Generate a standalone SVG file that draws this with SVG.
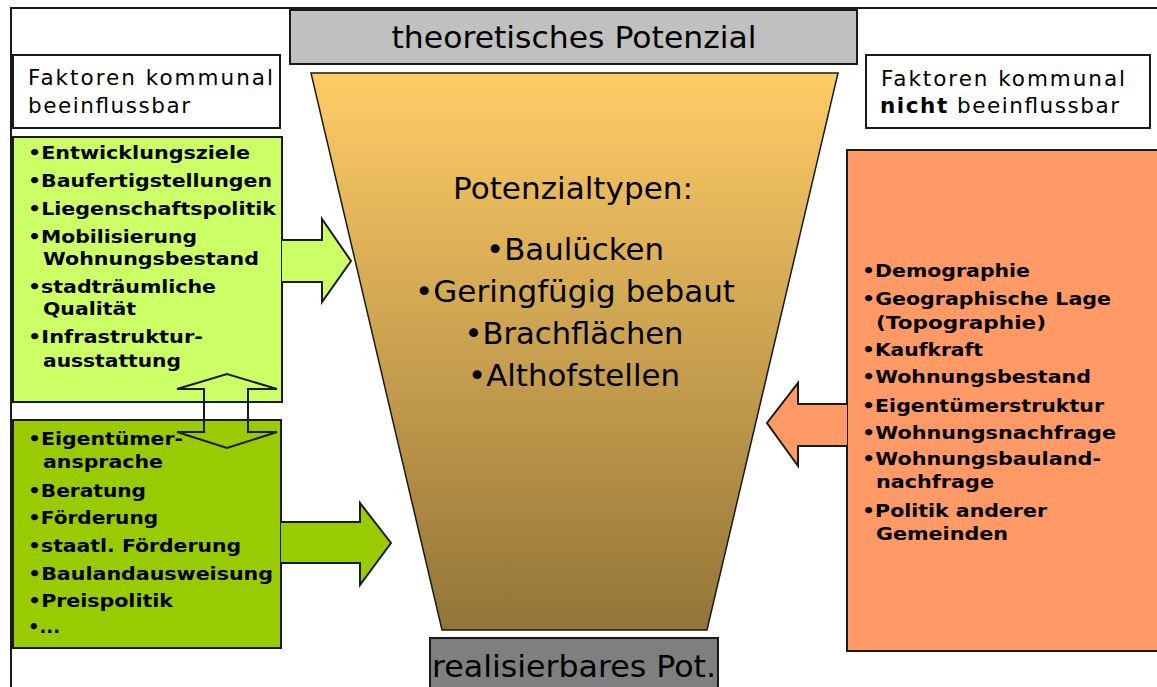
<svg xmlns="http://www.w3.org/2000/svg" width="1157" height="687" viewBox="0 0 1157 687">
<defs>
<linearGradient id="funnelGrad" x1="0" y1="0" x2="0" y2="1">
<stop offset="0" stop-color="#FFCC66"/>
<stop offset="1" stop-color="#937538"/>
</linearGradient>
<style>
.box{stroke:#1a1a1a;stroke-width:2}
.lbl{font-family:"DejaVu Sans",Verdana,sans-serif;font-size:21.5px;fill:#000}
.big{font-family:"DejaVu Sans",Verdana,sans-serif;font-size:31px;fill:#000}
.lst{font-family:"DejaVu Sans",Verdana,sans-serif;font-size:18px;font-weight:bold;fill:#000}
.arr{stroke:#1a1a1a;stroke-width:2;stroke-linejoin:miter}
</style>
</defs>
<rect width="1157" height="687" fill="#fff"/>
<path d="M11,687 V8 H1157" fill="none" stroke="#1a1a1a" stroke-width="2"/>

<g id="funnel">
<path d="M311,73 H838 L707,630 H442 Z" fill="url(#funnelGrad)" stroke="#1a1a1a" stroke-width="1.5"/>
<text class="big" x="573" y="199" text-anchor="middle" textLength="240" lengthAdjust="spacingAndGlyphs">Potenzialtypen:</text>
<text class="big" x="575" y="260" text-anchor="middle" textLength="178" lengthAdjust="spacingAndGlyphs">•Baulücken</text>
<text class="big" x="575" y="302" text-anchor="middle" textLength="320" lengthAdjust="spacingAndGlyphs">•Geringfügig bebaut</text>
<text class="big" x="574" y="344" text-anchor="middle" textLength="219" lengthAdjust="spacingAndGlyphs">•Brachflächen</text>
<text class="big" x="574" y="386" text-anchor="middle" textLength="212" lengthAdjust="spacingAndGlyphs">•Althofstellen</text>
</g>

<g id="theoretisch">
<rect class="box" x="290" y="10" width="567" height="54" fill="#C0C0C0"/>
<text class="big" x="574" y="48" text-anchor="middle" textLength="365" lengthAdjust="spacingAndGlyphs">theoretisches Potenzial</text>
</g>

<g id="realisierbar">
<rect class="box" x="430" y="638" width="288" height="60" fill="#7F7F7F"/>
<text class="big" x="574" y="677" text-anchor="middle" textLength="284" lengthAdjust="spacingAndGlyphs">realisierbares Pot.</text>
</g>

<g id="label-left">
<rect class="box" x="13" y="55" width="267" height="73" fill="#fff"/>
<text class="lbl" x="28" y="85" textLength="245" lengthAdjust="spacing">Faktoren kommunal</text>
<text class="lbl" x="28" y="113" textLength="162" lengthAdjust="spacing">beeinflussbar</text>
</g>

<g id="label-right">
<rect class="box" x="866" y="55" width="284" height="73" fill="#fff"/>
<text class="lbl" x="881" y="86" textLength="244" lengthAdjust="spacing">Faktoren kommunal</text>
<text class="lbl" x="880" y="113" textLength="239" lengthAdjust="spacing"><tspan font-weight="bold">nicht</tspan> beeinflussbar</text>
</g>

<g id="box-light">
<rect class="box" x="13" y="137" width="269" height="265" fill="#CCFF66"/>
<text class="lst" x="28" y="159" textLength="222" lengthAdjust="spacingAndGlyphs">•Entwicklungsziele</text>
<text class="lst" x="28" y="187" textLength="244" lengthAdjust="spacingAndGlyphs">•Baufertigstellungen</text>
<text class="lst" x="28" y="215" textLength="248" lengthAdjust="spacingAndGlyphs">•Liegenschaftspolitik</text>
<text class="lst" x="28" y="243" textLength="169" lengthAdjust="spacingAndGlyphs">•Mobilisierung</text>
<text class="lst" x="43" y="265" textLength="216" lengthAdjust="spacingAndGlyphs">Wohnungsbestand</text>
<text class="lst" x="28" y="293" textLength="188" lengthAdjust="spacingAndGlyphs">•stadträumliche</text>
<text class="lst" x="43" y="315" textLength="93" lengthAdjust="spacingAndGlyphs">Qualität</text>
<text class="lst" x="28" y="343" textLength="175" lengthAdjust="spacingAndGlyphs">•Infrastruktur-</text>
<text class="lst" x="43" y="367" textLength="138" lengthAdjust="spacingAndGlyphs">ausstattung</text>
</g>

<g id="box-dark">
<rect class="box" x="13" y="420" width="268" height="228" fill="#99CC00"/>
<text class="lst" x="28" y="445" textLength="155" lengthAdjust="spacingAndGlyphs">•Eigentümer-</text>
<text class="lst" x="43" y="468" textLength="120" lengthAdjust="spacingAndGlyphs">ansprache</text>
<text class="lst" x="28" y="497" textLength="118" lengthAdjust="spacingAndGlyphs">•Beratung</text>
<text class="lst" x="28" y="524" textLength="130" lengthAdjust="spacingAndGlyphs">•Förderung</text>
<text class="lst" x="28" y="552" textLength="213" lengthAdjust="spacingAndGlyphs">•staatl. Förderung</text>
<text class="lst" x="28" y="580" textLength="245" lengthAdjust="spacingAndGlyphs">•Baulandausweisung</text>
<text class="lst" x="28" y="607" textLength="145" lengthAdjust="spacingAndGlyphs">•Preispolitik</text>
<text class="lst" x="28" y="633" textLength="32" lengthAdjust="spacingAndGlyphs">•...</text>
</g>

<g id="box-orange">
<rect class="box" x="847" y="150" width="315" height="501" fill="#FF9966"/>
<text class="lst" x="862" y="277" textLength="168" lengthAdjust="spacingAndGlyphs">•Demographie</text>
<text class="lst" x="862" y="305" textLength="249" lengthAdjust="spacingAndGlyphs">•Geographische Lage</text>
<text class="lst" x="876" y="329" textLength="170" lengthAdjust="spacingAndGlyphs">(Topographie)</text>
<text class="lst" x="862" y="356" textLength="121" lengthAdjust="spacingAndGlyphs">•Kaufkraft</text>
<text class="lst" x="862" y="383" textLength="229" lengthAdjust="spacingAndGlyphs">•Wohnungsbestand</text>
<text class="lst" x="862" y="412" textLength="242" lengthAdjust="spacingAndGlyphs">•Eigentümerstruktur</text>
<text class="lst" x="862" y="439" textLength="254" lengthAdjust="spacingAndGlyphs">•Wohnungsnachfrage</text>
<text class="lst" x="862" y="465" textLength="239" lengthAdjust="spacingAndGlyphs">•Wohnungsbauland-</text>
<text class="lst" x="876" y="488" textLength="118" lengthAdjust="spacingAndGlyphs">nachfrage</text>
<text class="lst" x="862" y="517" textLength="185" lengthAdjust="spacingAndGlyphs">•Politik anderer</text>
<text class="lst" x="876" y="540" textLength="132" lengthAdjust="spacingAndGlyphs">Gemeinden</text>
</g>

<g id="connectors">
<path class="arr" d="M282,240 H322 V219 L351,261 L322,302 V282 H282" fill="#CCFF66"/>
<path class="arr" d="M281,522 H360 V503 L391,543 L360,585 V563 H281" fill="#99CC00"/>
<path class="arr" d="M847,404 H798 V383 L767,423 L798,466 V446 H847" fill="#FF9966"/>
<path class="arr" d="M204,432 V389 H177 L227,374 L277,389 H248 V432 H277 L227,448 L177,432 Z" fill="none"/>
</g>
</svg>
